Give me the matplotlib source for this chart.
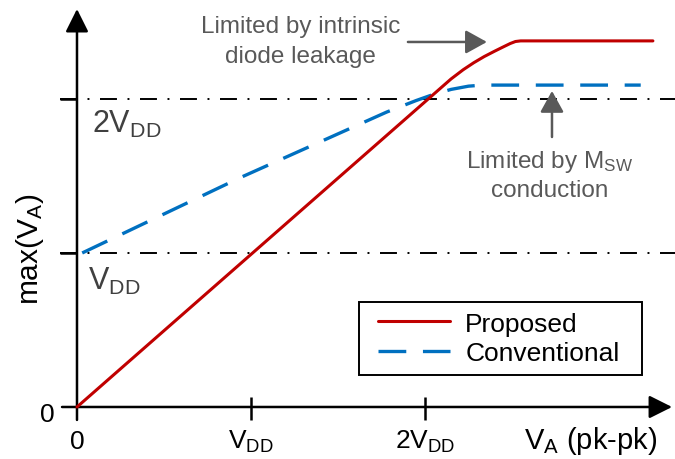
import matplotlib
matplotlib.use("Agg")
import matplotlib.pyplot as plt
from matplotlib.lines import Line2D
from matplotlib.legend_handler import HandlerLine2D

plt.rcParams['font.family'] = ['Liberation Sans', 'DejaVu Sans']
plt.rcParams['mathtext.fontset'] = 'custom'
plt.rcParams['mathtext.rm'] = 'Liberation Sans'
plt.rcParams['mathtext.it'] = 'Liberation Sans'
plt.rcParams['mathtext.bf'] = 'Liberation Sans:bold'
plt.rcParams['mathtext.default'] = 'regular'
plt.rcParams['lines.scale_dashes'] = False

# Input swing V_A (pk-pk) in units of VDD, and the resulting max(V_A)
proposed_x = [0.0, 2.15, 2.22, 2.28, 2.34, 2.40, 2.45, 2.49, 2.52, 2.55, 3.31]
proposed_y = [0.0, 2.13, 2.19, 2.235, 2.275, 2.31, 2.338, 2.36, 2.373,
              2.377, 2.377]

conventional_x = [0.03, 0.94, 1.78, 1.95, 2.05, 2.15, 2.25, 2.33, 3.24]
conventional_y = [1.00, 1.49, 1.915, 1.99, 2.03, 2.062, 2.083, 2.09, 2.09]

# Reference levels and tick labels
ref_levels = [1, 2]
ref_labels = [r'$V_{DD}$', r'$2V_{DD}$']
xtick_vals = [0, 1, 2]
xtick_labels = ['0', r'$V_{DD}$', r'$2V_{DD}$']
series_names = ['Proposed', 'Conventional']

RED = '#C00000'
BLUE = '#0070C0'
GRAY = '#595959'
DARK = '#404040'

fig = plt.figure(figsize=(6.75, 4.6), dpi=100)
ax = fig.add_axes([0, 0, 1, 1])
ax.set_xlim(-0.4425, 3.437)
ax.set_ylim(-0.3377, 2.649)
ax.axis('off')

# Horizontal dash-dot reference lines at VDD and 2VDD
dashdot = (0, (12.2, 7.6, 1.4, 7.6))
for lvl in ref_levels:
    ax.axhline(lvl, xmin=0.089, xmax=1.0, color='black', lw=1.4,
               linestyle=dashdot, zorder=1)

# Axes with arrow heads
axis_arrow = dict(arrowstyle='-|>,head_length=0.7,head_width=0.35',
                  mutation_scale=20, lw=1.8, color='black',
                  shrinkA=0, shrinkB=0)
ax.annotate('', xy=(3.42, 0), xytext=(-0.086, 0), arrowprops=axis_arrow,
            zorder=2)
ax.annotate('', xy=(0, 2.584), xytext=(0, -0.084), arrowprops=axis_arrow,
            zorder=2)

# Tick marks
for v in xtick_vals[1:]:
    ax.vlines(v, -0.084, 0.065, color='black', lw=1.8, zorder=2)
for lvl in ref_levels:
    ax.hlines(lvl, -0.098, 0, color='black', lw=1.8, zorder=2)

# Curves
ax.plot(conventional_x, conventional_y, color=BLUE, lw=2.4,
        linestyle=(0, (20, 12)), label=series_names[1], zorder=3)
ax.plot(proposed_x, proposed_y, color=RED, lw=2.2,
        solid_capstyle='round', solid_joinstyle='round',
        label=series_names[0], zorder=4)

# Tick labels
for v, lab in zip(xtick_vals, xtick_labels):
    ax.text(v, -0.266, lab, ha='center', va='baseline', fontsize=19,
            color='black')
ax.text(-0.126, -0.091, '0', ha='right', va='baseline', fontsize=19,
        color='black')

# Labels of the reference levels inside the plot
ax.text(0.086, 1.786, ref_labels[1], ha='left', va='baseline',
        fontsize=22, color=DARK)
ax.text(0.063, 0.766, ref_labels[0], ha='left', va='baseline',
        fontsize=22, color=DARK)

# Axis titles
ax.text(2.954, -0.266, r'$V_{A}$ (pk-pk)', ha='center', va='baseline',
        fontsize=21, color='black')
ax.text(-0.27, 1.03, r'max($V_{A}$)', ha='center', va='center',
        rotation=90, fontsize=21.5, color='black')

# Annotations
ax.text(1.287, 2.435, 'Limited by intrinsic', ha='center', va='baseline',
        fontsize=17.5, color=GRAY)
ax.text(1.287, 2.240, 'diode leakage', ha='center', va='baseline',
        fontsize=17.5, color=GRAY)
ax.text(2.718, 1.558, r'Limited by $M_{SW}$', ha='center', va='baseline',
        fontsize=17.5, color=GRAY)
ax.text(2.718, 1.370, 'conduction', ha='center', va='baseline',
        fontsize=17.5, color=GRAY)

note_arrow = dict(arrowstyle='-|>,head_length=0.65,head_width=0.36',
                  mutation_scale=20, lw=1.8, color=GRAY,
                  shrinkA=0, shrinkB=0)
ax.annotate('', xy=(2.356, 2.37), xytext=(1.902, 2.37), arrowprops=note_arrow)
ax.annotate('', xy=(2.730, 2.052), xytext=(2.730, 1.753),
            arrowprops=note_arrow)

# Legend
handles, labels = ax.get_legend_handles_labels()
order = [labels.index(n) for n in series_names]
leg = ax.legend([handles[i] for i in order], [labels[i] for i in order],
                loc='lower left',
                bbox_to_anchor=(0.532, 0.1826, 0.419, 0.172),
                bbox_transform=fig.transFigure, mode='expand',
                borderaxespad=0, fontsize=19, frameon=True, fancybox=False,
                edgecolor='black', framealpha=1, borderpad=0.38,
                labelspacing=0.2, handlelength=3.07, handletextpad=0.57,
                handler_map={Line2D: HandlerLine2D(xpad=0.34)})
leg.get_frame().set_linewidth(1.4)

fig.savefig('out.png', dpi=100)
